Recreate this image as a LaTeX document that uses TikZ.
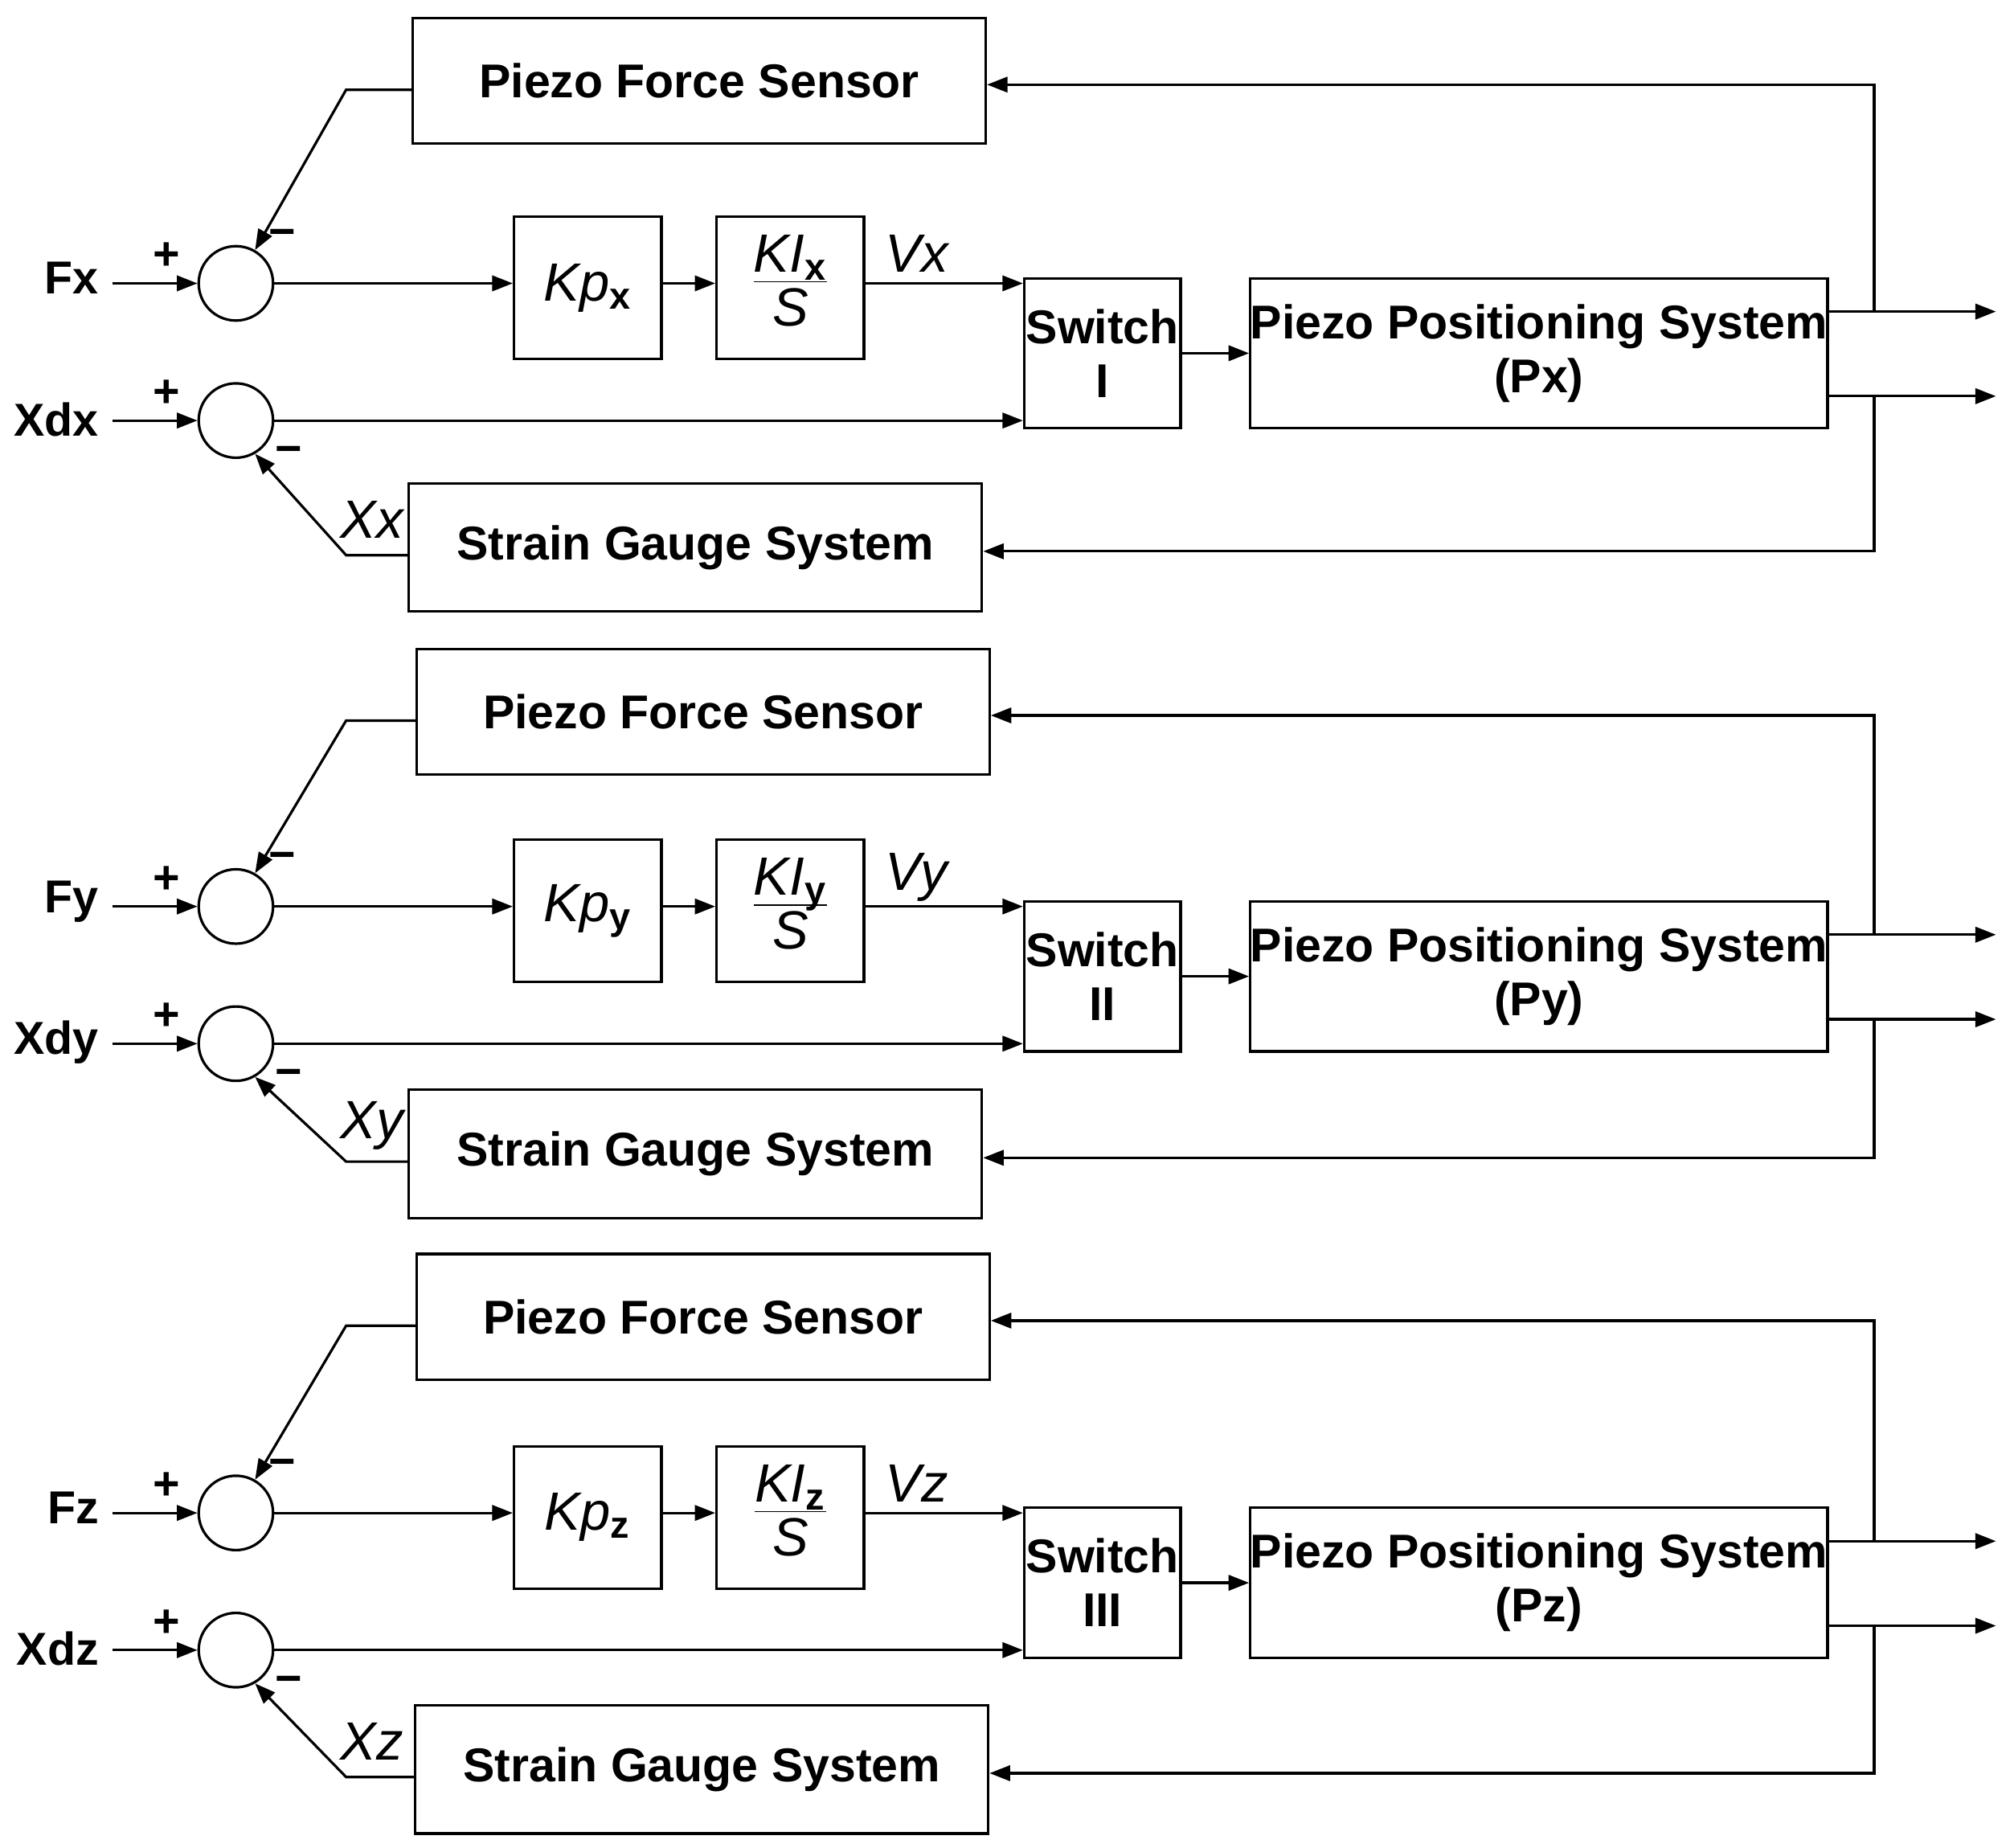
\documentclass[tikz,border=0pt]{standalone}
\usepackage{fontspec}
\setmainfont{Liberation Sans}
\usetikzlibrary{arrows.meta}
\begin{document}
\begin{tikzpicture}[x=0.5pt,y=-0.5pt,line width=1pt,
  >={Triangle[length=8pt,width=6pt]},
  box/.style={draw,inner sep=0pt,font=\fontsize{18.5}{21}\selectfont\bfseries,align=center},
  sum/.style={draw,circle,minimum size=29pt,inner sep=0pt},
  lab/.style={font=\fontsize{18}{20}\selectfont\bfseries,inner sep=0pt},
  ilab/.style={font=\fontsize{21}{22}\selectfont\itshape},
  sgn/.style={font=\fontsize{18}{20}\selectfont\bfseries}]
\useasboundingbox (0,0) rectangle (1568,1441);
\foreach \o/\s/\r/\dx/\po/\so/\sdx in {0/x/I/0/0/0/0,486/y/II/3/492/473/0,959/z/III/3/964/953/5}{
\begin{scope}[yshift=-\o*0.5pt]
 \node[box,minimum width=223.5pt,minimum height=49pt] (pfs\s) at (545.5+\dx,{63+\po-\o}) {Piezo Force Sensor};
 \node[box,minimum width=223.5pt,minimum height=50pt] (sgs\s) at (542.5+\sdx,{427+\so-\o}) {Strain Gauge System};
 \node[sum] (sa\s) at (184,221) {};
 \node[sum] (sb\s) at (184,328) {};
 \node[box,minimum width=57.5pt,minimum height=55.5pt] (kp\s) at (458.5,224.5) {};
 \node[font=\fontsize{21}{22}\selectfont] at (kp\s) {\textit{Kp}\textsubscript{\textbf{\s}}};
 \node[box,minimum width=57.5pt,minimum height=55.5pt] (ki\s) at (616.5,224.5) {};
 \node[font=\fontsize{21}{22}\selectfont] at (ki\s) {\begin{tabular}{@{}c@{}}\textit{KI}\textsubscript{\textbf{\s}}\\[-3pt]\hline\rule{0pt}{17pt}\textit{S}\end{tabular}};
 \node[box,minimum width=61pt,minimum height=58.5pt] (sw\s) at (860,275.5) {Switch\\\r};
 \node[box,minimum width=223.5pt,minimum height=58.5pt] (pps\s) at (1200.5,275.5) {Piezo Positioning System\\(P\s)};
 \node[lab,anchor=east] (F\s) at (78,217) {F\s};
 \node[lab,anchor=east] (X\s) at (78,327) {Xd\s};
 \coordinate (fi\s) at (88,221);
 \coordinate (xi\s) at (88,328);
 \draw[->] (fi\s) -- (sa\s);
 \draw[->] (xi\s) -- (sb\s);
 \node[sgn] at (130,200) {+};
 \node[sgn] at (130,307) {+};
 \node[sgn] at (220,186) {\textminus};
 \node[sgn] at (225,355) {\textminus};
 \draw[->] (sa\s) -- (kp\s.west |- sa\s);
 \draw[->] (kp\s.east |- sa\s) -- (ki\s.west |- sa\s);
 \draw[->] (ki\s.east |- sa\s) -- (sw\s.west |- sa\s);
 \node[ilab] at (715,198) {V\s};
 \draw[->] (sb\s) -- (sw\s.west |- sb\s);
 \draw[->] (sw\s) -- (pps\s);
 \coordinate (o1\s) at (1557,243);
 \coordinate (o2\s) at (1557,309);
 \draw[->] (pps\s.east |- o1\s) -- (o1\s);
 \draw[->] (pps\s.east |- o2\s) -- (o2\s);
 \coordinate (r1\s) at (1462,{66+\po-\o});
 \coordinate (r2\s) at (1462,{430+\so-\o});
 \coordinate (m1\s) at (1462,243);
 \coordinate (m2\s) at (1462,309);
 \draw[->] (m1\s) -- (r1\s) -- (pfs\s.east |- r1\s);
 \draw[->] (m2\s) -- (r2\s) -- (sgs\s.east |- r2\s);
 \coordinate (p1\s) at (270,{70+\po-\o});
 \coordinate (p2\s) at (270,{433+\so-\o});
 \draw[->] (pfs\s.west |- p1\s) -- (p1\s) -- (sa\s.60);
 \draw[->] (sgs\s.west |- p2\s) -- (p2\s) -- (sb\s.-60);
 \node[ilab] at (290,{405+\so-\o}) {X\s};
\end{scope}}
\end{tikzpicture}
\end{document}
